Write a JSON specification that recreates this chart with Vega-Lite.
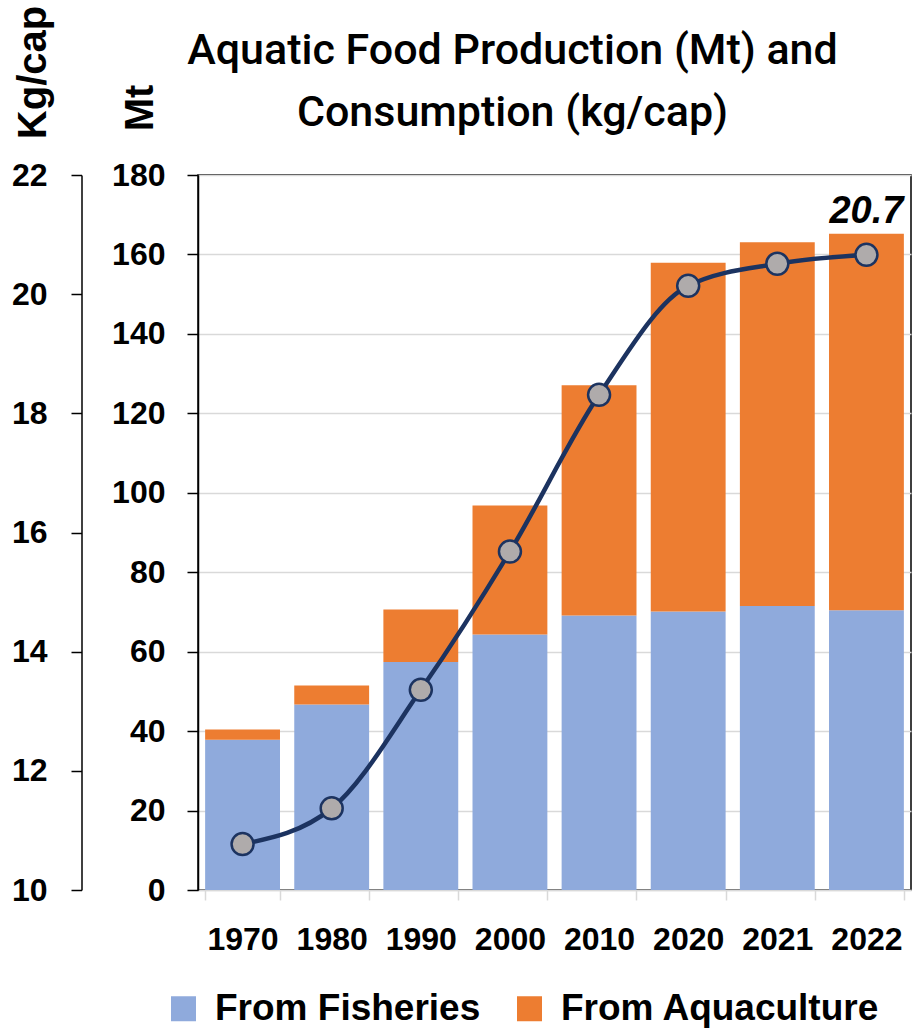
{
  "$schema": "https://vega.github.io/schema/vega-lite/v6.json",
  "width": 713,
  "height": 715,
  "autosize": {"type": "none"},
  "padding": {"left": 198, "top": 175, "right": 4, "bottom": 140},
  "background": "white",
  "title": {
    "text": ["Aquatic Food Production (Mt) and", "Consumption (kg/cap)"],
    "font": "Roboto",
    "fontSize": 43,
    "fontWeight": 500,
    "color": "black",
    "anchor": "middle",
    "frame": "group",
    "dx": -42,
    "lineHeight": 62,
    "baseline": "bottom",
    "offset": -173
  },
  "config": {
    "view": {"stroke": "black", "strokeWidth": 1.5},
    "axis": {"labelColor": "black", "titleColor": "black", "labelFont": "Liberation Sans", "titleFont": "Liberation Sans"}
  },
  "datasets": {
    "prod": [
      {"year": "1970", "source": "From Fisheries", "mt": 37.8},
      {"year": "1970", "source": "From Aquaculture", "mt": 2.6},
      {"year": "1980", "source": "From Fisheries", "mt": 46.7},
      {"year": "1980", "source": "From Aquaculture", "mt": 4.8},
      {"year": "1990", "source": "From Fisheries", "mt": 57.4},
      {"year": "1990", "source": "From Aquaculture", "mt": 13.2},
      {"year": "2000", "source": "From Fisheries", "mt": 64.3},
      {"year": "2000", "source": "From Aquaculture", "mt": 32.5},
      {"year": "2010", "source": "From Fisheries", "mt": 69.1},
      {"year": "2010", "source": "From Aquaculture", "mt": 58.0},
      {"year": "2020", "source": "From Fisheries", "mt": 70.1},
      {"year": "2020", "source": "From Aquaculture", "mt": 87.8},
      {"year": "2021", "source": "From Fisheries", "mt": 71.5},
      {"year": "2021", "source": "From Aquaculture", "mt": 91.6},
      {"year": "2022", "source": "From Fisheries", "mt": 70.4},
      {"year": "2022", "source": "From Aquaculture", "mt": 94.8}
    ],
    "cons": [
      {"year": "1970", "kg": 10.77},
      {"year": "1980", "kg": 11.37},
      {"year": "1990", "kg": 13.36},
      {"year": "2000", "kg": 15.68},
      {"year": "2010", "kg": 18.31},
      {"year": "2020", "kg": 20.14},
      {"year": "2021", "kg": 20.51},
      {"year": "2022", "kg": 20.66}
    ]
  },
  "layer": [
    {
      "data": {"name": "prod"},
      "mark": {"type": "bar"},
      "encoding": {
        "x": {
          "field": "year",
          "type": "nominal",
          "scale": {"paddingInner": 0.16, "paddingOuter": 0.08},
          "axis": {
            "title": null,
            "labelAngle": 0,
            "labelFontSize": 32,
            "labelFontWeight": "bold",
            "labelPadding": 24,
            "tickSize": 10,
            "tickWidth": 1.5,
            "tickColor": "#d9d9d9",
            "domainColor": "#d9d9d9",
            "domainWidth": 1.5,
            "tickBand": "extent"
          }
        },
        "y": {
          "field": "mt",
          "type": "quantitative",
          "stack": "zero",
          "scale": {"domain": [0, 180], "nice": false},
          "axis": {
            "title": "Mt",
            "titleFontSize": 40,
            "titleFontWeight": "bold",
            "titleAngle": -90,
            "titleX": -46,
            "titleY": -67.5,
            "titleAlign": "center",
            "titleBaseline": "alphabetic",
            "values": [0, 20, 40, 60, 80, 100, 120, 140, 160, 180],
            "labelFontSize": 32,
            "labelFontWeight": "bold",
            "labelPadding": 22,
            "tickSize": 11,
            "tickWidth": 1.5,
            "tickColor": "black",
            "domainColor": "black",
            "domainWidth": 1.5,
            "grid": true,
            "gridColor": "#d9d9d9",
            "gridWidth": 1.5
          }
        },
        "color": {
          "field": "source",
          "type": "nominal",
          "scale": {"domain": ["From Fisheries", "From Aquaculture"], "range": ["#8faadc", "#ed7d31"]},
          "legend": {
            "orient": "none",
            "legendX": -33,
            "legendY": 815,
            "direction": "horizontal",
            "title": null,
            "symbolType": "square",
            "symbolSize": 625,
            "symbolStrokeWidth": 0,
            "labelFont": "Liberation Sans",
            "labelFontSize": 37,
            "labelFontWeight": "bold",
            "labelColor": "black",
            "labelOffset": 13,
            "columnPadding": 30,
            "labelLimit": 0
          }
        },
        "order": {"field": "source", "sort": "descending"}
      }
    },
    {
      "data": {"name": "cons"},
      "encoding": {
        "x": {"field": "year", "type": "nominal"},
        "y": {
          "field": "kg",
          "type": "quantitative",
          "scale": {"domain": [10, 22], "nice": false, "zero": false},
          "axis": {
            "orient": "left",
            "offset": 116.5,
            "title": "Kg/cap",
            "titleFontSize": 40,
            "titleFontWeight": "bold",
            "titleAngle": -90,
            "titleX": -36.5,
            "titleY": -103,
            "titleAlign": "center",
            "titleBaseline": "alphabetic",
            "values": [10, 12, 14, 16, 18, 20, 22],
            "labelFontSize": 32,
            "labelFontWeight": "bold",
            "labelPadding": 24,
            "tickSize": 10.5,
            "tickWidth": 1.5,
            "tickColor": "black",
            "domainColor": "black",
            "domainWidth": 1.5,
            "grid": false
          }
        }
      },
      "layer": [
        {"mark": {"type": "line", "interpolate": "monotone", "color": "#1c3360", "strokeWidth": 4.5}},
        {"mark": {"type": "circle", "size": 484, "fill": "#afabab", "stroke": "#1c3360", "strokeWidth": 2.5, "opacity": 1}},
        {
          "transform": [{"filter": "datum.year == '2022'"}],
          "mark": {"type": "text", "font": "Liberation Sans", "fontSize": 38, "fontStyle": "italic", "fontWeight": "bold", "dy": -32, "baseline": "alphabetic", "align": "center", "color": "black"},
          "encoding": {"text": {"field": "kg", "type": "quantitative", "format": ".1f"}}
        }
      ]
    }
  ],
  "resolve": {"scale": {"y": "independent"}}
}
